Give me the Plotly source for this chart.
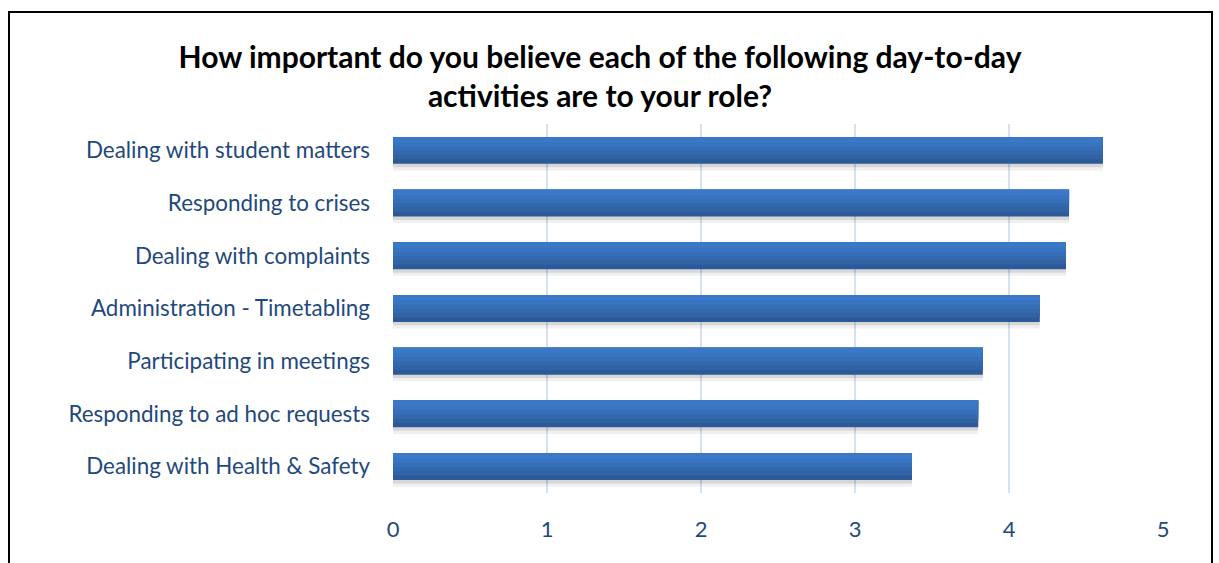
import plotly.graph_objects as go

categories = [
    "Dealing with student matters",
    "Responding to crises",
    "Dealing with complaints",
    "Administration - Timetabling",
    "Participating in meetings",
    "Responding to ad hoc requests",
    "Dealing with Health & Safety",
]
values = [4.61, 4.39, 4.37, 4.20, 3.83, 3.80, 3.37]
x_ticks = [0, 1, 2, 3, 4, 5]

FONT = "Lato"
LABEL_COLOR = "#1F497D"

fig = go.Figure()

# soft shadow layers
for alpha, w, off in [(0.06, 0.60, -0.22), (0.10, 0.56, -0.24)]:
    fig.add_trace(go.Bar(
        x=values, y=categories, orientation="h",
        marker=dict(color=f"rgba(0,0,0,{alpha})", line=dict(width=0)),
        width=w, offset=off, hoverinfo="skip", showlegend=False,
    ))
# gradient layers (dark base to light top)
layers = [
    ("#2C5A98", 0.51, -0.255),
    ("#3062A4", 0.42, -0.255),
    ("#3368AE", 0.34, -0.255),
    ("#366EB8", 0.26, -0.255),
    ("#3974C0", 0.18, -0.255),
    ("#3B78C7", 0.10, -0.255),
]
for col, w, off in layers:
    fig.add_trace(go.Bar(
        x=values, y=categories, orientation="h",
        marker=dict(color=col, line=dict(width=0)),
        width=w, offset=off, hoverinfo="skip", showlegend=False,
    ))

fig.update_layout(
    barmode="overlay",
    width=1219, height=563,
    margin=dict(l=393, r=56, t=124, b=70),
    paper_bgcolor="white", plot_bgcolor="white",
    font=dict(family=FONT, color=LABEL_COLOR, size=22.4),
    title=dict(
        text="How important do you believe each of the following day-to-day<br>activities are to your role?",
        x=600 / 1219, xanchor="center", y=1 - 68 / 563, yanchor="middle",
        font=dict(family=FONT, size=30, color="black", weight="bold"),
    ),
    xaxis=dict(
        range=[0, 5], tickvals=x_ticks, ticktext=[str(t) for t in x_ticks],
        showgrid=True, gridcolor="#D6E2F1", gridwidth=1.5,
        zeroline=False, showline=False, ticks="",
        ticklabelstandoff=21,
        tickfont=dict(size=22, color=LABEL_COLOR),
    ),
    yaxis=dict(
        autorange="reversed", showgrid=False, zeroline=False, showline=False,
        ticks="", ticklabelstandoff=22,
        tickfont=dict(size=22.4, color=LABEL_COLOR),
    ),
    shapes=[dict(
        type="rect", xref="paper", yref="paper",
        x0=(9 - 393) / 770, x1=(1212 - 393) / 770,
        y0=-(620 - 493) / 369, y1=1 + (124 - 12) / 369,
        line=dict(color="black", width=2), fillcolor="rgba(0,0,0,0)",
        layer="above",
    )],
)

fig.write_html("out.html")
